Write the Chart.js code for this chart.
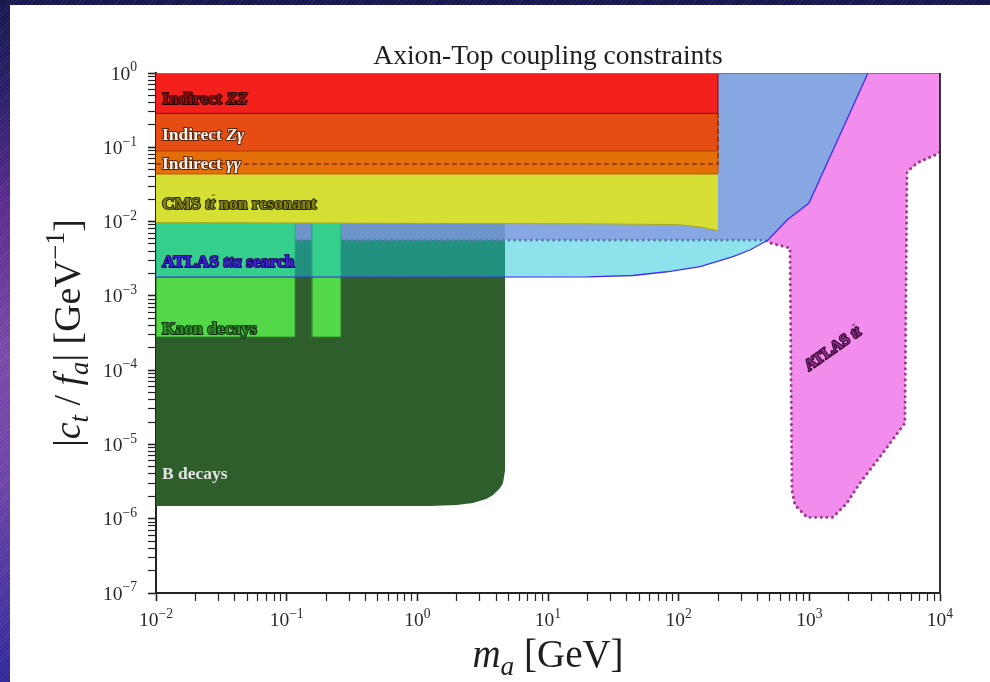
<!DOCTYPE html>
<html>
<head>
<meta charset="utf-8">
<script src="https://cdn.jsdelivr.net/npm/chart.js@4.4.1/dist/chart.umd.min.js"></script>
<style>
  html, body { margin: 0; padding: 0; }
  body {
    width: 990px; height: 682px; overflow: hidden; position: relative;
    background:
      repeating-linear-gradient(135deg, rgba(255,255,255,0.07) 0 1px, rgba(0,0,0,0) 1px 3px),
      linear-gradient(180deg, #15154e 0%, #2a1f6a 14%, #5a2a8e 30%, #7a48a8 52%, #6e44a8 70%, #4c36a2 86%, #30289a 100%);
  }
  #panel { position: absolute; left: 10px; top: 5px; width: 980px; height: 677px; background: #fff; }
  canvas { display: block; }
</style>
</head>
<body>
<div id="panel"><canvas id="chart" width="980" height="677"></canvas></div>
<script>
// axis decades (log10 of m_a [GeV] and |c_t/f_a| [GeV^-1])
const xDecades = [-2, -1, 0, 1, 2, 3, 4];
const yDecades = [-7, -6, -5, -4, -3, -2, -1, 0];

// indirect bounds, flat up to m_a = 200 GeV
const indirectMax = 200;
const zzLow = 0.286;
const zgLow = 0.089;
const ggLow = 0.0437;
const ggDashed = 0.0596;

// CMS tt non resonant, lower edge
const cmsMass = [0.01, 25, 97, 146, 200];
const cmsLow = [0.0097, 0.0093, 0.0091, 0.0085, 0.0075];

// ATLAS tta search, lower edge
const ttaMass = [0.01, 20, 44.7, 81.5, 146, 261, 351, 483, 675, 994, 2810];
const ttaLow = [0.00179, 0.0018, 0.00188, 0.00211, 0.00247, 0.00337, 0.00414, 0.00565, 0.0105, 0.0178, 1];

// ATLAS tt, lower edge
const ttMass = [0.01, 458, 500, 711, 736, 776, 959, 1520, 1940, 2440, 3660, 5390, 5590, 6670, 9480, 10000];
const ttLow = [0.00565, 0.00565, 0.00515, 0.0044, 2.44e-6, 1.53e-6, 1.05e-6, 1.05e-6, 1.63e-6, 3.03e-6, 7.7e-6, 1.94e-5, 0.0465, 0.0615, 0.081, 0.086];

// Kaon decays
const kaonBins = [[0.01, 0.116], [0.156, 0.26]];
const kaonLow = 2.8e-4;
const kaonHigh = 0.01;

// B decays, lower edge
const bMass = [0.01, 1.25, 2.0, 2.67, 3.4, 3.8, 4.3, 4.53, 4.69, 4.69];
const bLow = [1.48e-6, 1.48e-6, 1.53e-6, 1.63e-6, 1.85e-6, 2.09e-6, 2.6e-6, 3.03e-6, 4.5e-6, 1];

const serif = '"Liberation Serif", "DejaVu Serif", serif';

function points(xs, ys) {
  return xs.map((x, i) => ({ x: x, y: ys[i] }));
}

// ==================== DATASETS (bottom -> top) ====================

const datasets = [
  {
    label: "B decays",
    data: points(bMass, bLow),
    backgroundColor: "#2e5e2b",
    borderWidth: 0,
    fill: "end",
  },
  {
    label: "ATLAS tt",
    data: points(ttMass, ttLow),
    backgroundColor: "rgba(240, 107, 231, 0.77)",
    borderColor: "#a2368f",
    borderWidth: 3,
    borderDash: [0.1, 5.5],
    borderCapStyle: "round",
    fill: "end",
  },
];

kaonBins.forEach(([lo, hi]) => {
  datasets.push({
    label: "Kaon decays",
    data: points([lo, lo, hi, hi], [kaonHigh, kaonLow, kaonLow, kaonHigh]),
    backgroundColor: "#53d848",
    borderColor: "rgba(50, 140, 40, 0.8)",
    borderWidth: 1,
    fill: "end",
  });
});

datasets.push(
  {
    label: "ATLAS tta search",
    data: points(ttaMass, ttaLow),
    backgroundColor: "rgba(22, 196, 214, 0.49)",
    borderColor: "#4030ee",
    borderWidth: 1.3,
    fill: "end",
  },
  {
    label: "CMS tt non resonant",
    data: points(cmsMass, cmsLow),
    backgroundColor: "#d6df33",
    borderColor: "#a8a820",
    borderWidth: 1,
    fill: "end",
  },
  {
    label: "Indirect gg",
    data: points([0.01, indirectMax, indirectMax], [ggLow, ggLow, zgLow]),
    backgroundColor: "#e46f08",
    borderColor: "#b85a10",
    borderWidth: 1,
    fill: "end",
  },
  {
    label: "Indirect Zg",
    data: points([0.01, indirectMax, indirectMax], [zgLow, zgLow, zzLow]),
    backgroundColor: "#e54d12",
    borderColor: "#a8400e",
    borderWidth: 1,
    fill: "end",
  },
  {
    label: "Indirect ZZ",
    data: points([0.01, indirectMax, indirectMax], [zzLow, zzLow, 1]),
    backgroundColor: "#f4201b",
    borderColor: "#6e1410",
    borderWidth: 1,
    fill: "end",
  },
  {
    label: "Indirect gg (dashed)",
    data: points([0.01, indirectMax, indirectMax], [ggDashed, ggDashed, zzLow]),
    borderColor: "#8a2c0c",
    borderWidth: 1.4,
    borderDash: [5, 3],
    fill: false,
  }
);

datasets.forEach((d, i) => {
  d.order = datasets.length - i;
  d.pointRadius = 0;
  d.tension = 0;
});

// ==================== TEXT HELPERS ====================

function fontFor(size, p) {
  return `${p.i ? "italic" : "normal"} ${p.b ? "bold" : "normal"} ${size}px ${serif}`;
}

function drawRich(ctx, parts, x, y, size, align, fill, stroke, strokeWidth) {
  let total = 0;
  const widths = parts.map((p) => {
    ctx.font = fontFor(size * (p.s || 1), p);
    const w = ctx.measureText(p.t).width;
    total += w;
    return w;
  });
  let cx = align === "center" ? x - total / 2 : align === "right" ? x - total : x;
  ctx.textAlign = "left";
  ctx.textBaseline = "alphabetic";
  parts.forEach((p, k) => {
    ctx.font = fontFor(size * (p.s || 1), p);
    const yy = y + (p.dy || 0) * size;
    if (stroke) {
      ctx.lineWidth = strokeWidth;
      ctx.strokeStyle = stroke;
      ctx.lineJoin = "round";
      ctx.strokeText(p.t, cx, yy);
    }
    ctx.fillStyle = fill;
    ctx.fillText(p.t, cx, yy);
    if (p.bar) {
      ctx.beginPath();
      ctx.lineWidth = 1.3;
      ctx.strokeStyle = fill;
      ctx.moveTo(cx + widths[k] * 0.25, yy - size * 0.78);
      ctx.lineTo(cx + widths[k] * 1.05, yy - size * 0.78);
      ctx.stroke();
    }
    cx += widths[k];
  });
}

function expLabel(d) {
  return [{ t: "10" }, { t: String(d).replace("-", "\u2212"), s: 0.7, dy: -0.42 }];
}

const regionLabels = [
  { parts: [{ t: "Indirect ", b: 1 }, { t: "ZZ", i: 1, b: 1 }], m: 0.0111, c: 0.461, fill: "#8a0f0f", stroke: "#2a0000" },
  { parts: [{ t: "Indirect ", b: 1 }, { t: "Z\u03b3", i: 1, b: 1 }], m: 0.0111, c: 0.151, fill: "#f6f2ec", stroke: "#5a2208" },
  { parts: [{ t: "Indirect ", b: 1 }, { t: "\u03b3\u03b3", i: 1, b: 1 }], m: 0.0111, c: 0.0614, fill: "#f6f2ec", stroke: "#5a2208" },
  { parts: [{ t: "CMS ", b: 1 }, { t: "t", i: 1, b: 1 }, { t: "t", i: 1, b: 1, bar: 1 }, { t: " non resonant", b: 1 }], m: 0.0111, c: 0.0178, fill: "#85850f", stroke: "#262600" },
  { parts: [{ t: "ATLAS ", b: 1 }, { t: "tta", i: 1, b: 1 }, { t: " search", b: 1 }], m: 0.0111, c: 0.00295, fill: "#3d1fe0", stroke: "#1a0a55" },
  { parts: [{ t: "Kaon decays", b: 1 }], m: 0.0111, c: 3.69e-4, fill: "#2f8f28", stroke: "#0d2a0a" },
  { parts: [{ t: "B decays", b: 1 }], m: 0.0111, c: 4.13e-6, fill: "#e4e4e4" },
  { parts: [{ t: "ATLAS ", b: 1 }, { t: "t", i: 1, b: 1 }, { t: "t", i: 1, b: 1, bar: 1 }], m: 1490, c: 1.99e-4, rot: -35, fill: "#8c2a86", stroke: "#2a0626" },
];

const regionText = {
  id: "regionText",
  afterDatasetsDraw(chart) {
    const { ctx, scales } = chart;
    const size = 17.5;
    ctx.save();
    regionLabels.forEach((l) => {
      const px = scales.x.getPixelForValue(l.m);
      const py = scales.y.getPixelForValue(l.c);
      if (l.rot) {
        ctx.save();
        ctx.translate(px, py);
        ctx.rotate((l.rot * Math.PI) / 180);
        drawRich(ctx, l.parts, 0, size * 0.33, 16, "center", l.fill, l.stroke, 2);
        ctx.restore();
      } else {
        drawRich(ctx, l.parts, px, py + size * 0.33, size, "left", l.fill, l.stroke, 2);
      }
    });
    ctx.restore();
  },
};

const axisText = {
  id: "axisText",
  afterDraw(chart) {
    const { ctx, chartArea, scales } = chart;
    ctx.save();

    // frame: top and right spines
    ctx.beginPath();
    ctx.strokeStyle = "#777";
    ctx.lineWidth = 1;
    ctx.moveTo(chartArea.left, chartArea.top + 0.5);
    ctx.lineTo(chartArea.right, chartArea.top + 0.5);
    ctx.stroke();
    ctx.beginPath();
    ctx.strokeStyle = "#333";
    ctx.lineWidth = 2;
    ctx.moveTo(chartArea.right, chartArea.top);
    ctx.lineTo(chartArea.right, chartArea.bottom);
    ctx.stroke();

    // tick labels
    xDecades.forEach((d) => {
      const px = scales.x.getPixelForValue(Math.pow(10, d));
      drawRich(ctx, expLabel(d), px, chartArea.bottom + 33, 19.5, "center", "#2a2a2a");
    });
    yDecades.forEach((d) => {
      const py = scales.y.getPixelForValue(Math.pow(10, d));
      drawRich(ctx, expLabel(d), chartArea.left - 19, py + 6.5, 19.5, "right", "#2a2a2a");
    });

    // axis titles
    const xc = (chartArea.left + chartArea.right) / 2;
    drawRich(
      ctx,
      [{ t: "m", i: 1 }, { t: "a", i: 1, s: 0.7, dy: 0.2 }, { t: " [GeV]" }],
      xc, chartArea.bottom + 74, 39, "center", "#1e1e1e"
    );
    const yc = (chartArea.top + chartArea.bottom) / 2;
    ctx.save();
    ctx.translate(70, yc);
    ctx.rotate(-Math.PI / 2);
    drawRich(
      ctx,
      [
        { t: "|" }, { t: "c", i: 1 }, { t: "t", i: 1, s: 0.7, dy: 0.2 }, { t: " / " },
        { t: "f", i: 1 }, { t: "a", i: 1, s: 0.7, dy: 0.2 }, { t: "|" },
        { t: " [GeV" }, { t: "\u22121", s: 0.7, dy: -0.42 }, { t: "]" },
      ],
      0, 0, 38, "center", "#1e1e1e"
    );
    ctx.restore();
    ctx.restore();
  },
};

// ==================== SCALES ====================

function logTicks(decades) {
  const ticks = [];
  decades.forEach((d, i) => {
    ticks.push({ value: Math.pow(10, d), major: true });
    if (i < decades.length - 1) {
      for (let k = 2; k <= 9; k++) ticks.push({ value: k * Math.pow(10, d), major: false });
    }
  });
  return ticks;
}

const gridStyle = {
  drawOnChartArea: false,
  drawTicks: true,
  tickLength: 8,
  tickColor: "#222",
  tickWidth: (c) => (c.tick && c.tick.major ? 1.6 : 1.2),
};

new Chart(document.getElementById("chart"), {
  type: "line",
  data: { datasets: datasets },
  options: {
    responsive: false,
    animation: false,
    layout: { padding: { top: 29, right: 50, left: 0, bottom: 0 } },
    plugins: {
      legend: { display: false },
      tooltip: { enabled: false },
      title: {
        display: true,
        text: "Axion-Top coupling constraints",
        fullSize: false,
        color: "#1e1e1e",
        font: { family: serif, size: 27.5, weight: "normal" },
        padding: { top: 6, bottom: 0 },
      },
    },
    scales: {
      x: {
        type: "logarithmic",
        min: Math.pow(10, xDecades[0]),
        max: Math.pow(10, xDecades[xDecades.length - 1]),
        afterBuildTicks: (scale) => { scale.ticks = logTicks(xDecades); },
        afterFit: (scale) => { scale.height = 89; },
        ticks: { display: false },
        grid: gridStyle,
        border: { color: "#222", width: 2 },
      },
      y: {
        type: "logarithmic",
        min: Math.pow(10, yDecades[0]),
        max: Math.pow(10, yDecades[yDecades.length - 1]),
        afterBuildTicks: (scale) => { scale.ticks = logTicks(yDecades); },
        afterFit: (scale) => { scale.width = 146; },
        ticks: { display: false },
        grid: gridStyle,
        border: { color: "#222", width: 2 },
      },
    },
  },
  plugins: [regionText, axisText],
});
</script>
</body>
</html>
